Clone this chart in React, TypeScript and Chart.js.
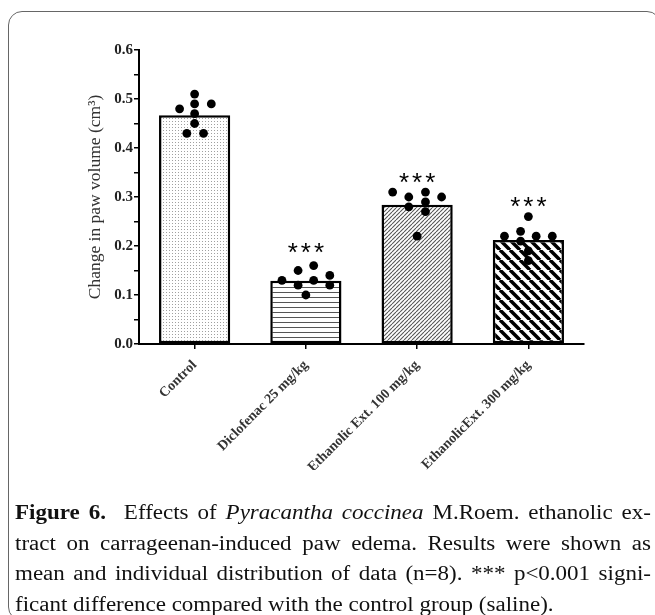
import React, { useEffect, useRef } from 'react';
import { Chart, registerables } from 'chart.js';
Chart.register(...registerables);

const categories = ['Control', 'Diclofenac 25 mg/kg', 'Ethanolic Ext. 100 mg/kg', 'EthanolicExt. 300 mg/kg'];
const meanValues = [0.467, 0.129, 0.284, 0.212];

const controlPoints = [0.51, 0.49, 0.49, 0.48, 0.47, 0.45, 0.43, 0.43];
const diclofenacPoints = [0.16, 0.15, 0.14, 0.13, 0.13, 0.12, 0.12, 0.10];
const ext100Points = [0.31, 0.30, 0.31, 0.30, 0.28, 0.29, 0.27, 0.22];
const ext300Points = [0.26, 0.22, 0.23, 0.22, 0.22, 0.21, 0.19, 0.17];

// horizontal spread of the dots within each group (category units)
const controlJitter = [0, 0, 0.15, -0.135, 0, 0, -0.07, 0.08];
const diclofenacJitter = [0.07, -0.07, 0.215, -0.215, 0.07, -0.07, 0.215, 0];
const ext100Jitter = [-0.22, -0.075, 0.075, 0.22, -0.075, 0.075, 0.075, 0];
const ext300Jitter = [0, -0.215, -0.07, 0.07, 0.215, -0.07, 0, 0];

const starMarks = ['', '***', '***', '***'];
const starLevels: (number | null)[] = [null, 0.196, 0.34, 0.29];

const yTitle = 'Change in paw volume (cm\u00B3)';

function makePattern(kind: string): CanvasPattern | string {
  const c = document.createElement('canvas');
  const g = c.getContext('2d');
  if (!g) return '#fff';
  let s = 4;
  if (kind === 'dots') s = 3;
  if (kind === 'hlines') s = 5;
  if (kind === 'fine') s = 4;
  if (kind === 'bold') s = 10;
  c.width = s; c.height = s;
  g.fillStyle = '#fff';
  g.fillRect(0, 0, s, s);
  if (kind === 'dots') {
    g.fillStyle = '#a0a0a0';
    g.fillRect(1, 1, 1, 1);
  } else if (kind === 'hlines') {
    g.fillStyle = '#555';
    g.fillRect(0, 2, s, 1);
  } else if (kind === 'fine') {
    g.strokeStyle = '#555';
    g.lineWidth = 1.1;
    for (let k = -1; k <= 1; k++) {
      g.beginPath(); g.moveTo(k * s, s); g.lineTo(k * s + s, 0); g.stroke();
    }
  } else if (kind === 'bold') {
    g.strokeStyle = '#000';
    g.lineWidth = 3.5;
    for (let k = -1; k <= 1; k++) {
      g.beginPath(); g.moveTo(k * s, 0); g.lineTo(k * s + s, s); g.stroke();
    }
  }
  return g.createPattern(c, 'repeat') || '#fff';
}

const starPlugin = {
  id: 'stars',
  afterDatasetsDraw(chart: any) {
    const { ctx, scales } = chart;
    const x = scales.x, y = scales.y;
    ctx.save();
    ctx.font = '26px "Liberation Sans"';
    try { (ctx as any).letterSpacing = '3px'; } catch (e) { /* ignore */ }
    ctx.fillStyle = '#000';
    ctx.textAlign = 'center';
    ctx.textBaseline = 'middle';
    starLevels.forEach((lv, i) => {
      if (lv == null) return;
      ctx.fillText(starMarks[i], x.getPixelForValue(i) + 1.5, y.getPixelForValue(lv) + 6);
    });
    ctx.restore();
  },
};

export default function App() {
  const ref = useRef<HTMLCanvasElement>(null);
  useEffect(() => {
    if (!ref.current) return;
    const groups = [controlPoints, diclofenacPoints, ext100Points, ext300Points];
    const jitters = [controlJitter, diclofenacJitter, ext100Jitter, ext300Jitter];
    const dots: { x: number; y: number }[] = [];
    groups.forEach((vals, gi) => vals.forEach((v, k) => dots.push({ x: gi + jitters[gi][k], y: v })));
    const chart = new Chart(ref.current, {
      type: 'bar',
      data: {
        labels: categories,
        datasets: [
          {
            type: 'bar',
            data: meanValues,
            backgroundColor: [makePattern('dots'), makePattern('hlines'), makePattern('fine'), makePattern('bold')] as any,
            borderColor: '#000',
            borderWidth: 2.5,
            borderSkipped: false,
            barPercentage: 0.64,
            categoryPercentage: 1,
            grouped: false,
            order: 2,
          } as any,
          {
            type: 'scatter',
            data: dots,
            xAxisID: 'xs',
            pointRadius: 4.4,
            pointBackgroundColor: '#000',
            pointBorderWidth: 0,
            order: 1,
          } as any,
        ],
      },
      options: {
        animation: false,
        responsive: false,
        devicePixelRatio: 1,
        layout: { padding: { left: 82, top: 50, right: 71, bottom: 0 } },
        plugins: { legend: { display: false }, tooltip: { enabled: false } },
        scales: {
          x: {
            type: 'category',
            offset: true,
            grid: { offset: false, drawOnChartArea: false, tickLength: 5, color: '#000', lineWidth: 1.5 },
            border: { display: true, color: '#000', width: 2 },
            ticks: {
              autoSkip: false,
              minRotation: 45,
              maxRotation: 45,
              padding: 8,
              color: '#333',
              font: { family: '"Liberation Serif"', size: 14, weight: 'bold' },
            },
            afterFit: (s: any) => { s.height = 126; },
          },
          xs: { type: 'linear', axis: 'x', position: 'bottom', offset: false, min: -0.5, max: 3.5, display: false },
          y: {
            min: 0,
            max: 0.6,
            grid: { drawOnChartArea: false, tickLength: 5, color: '#000', lineWidth: 1.5 },
            border: { display: true, color: '#000', width: 2 },
            ticks: {
              stepSize: 0.05,
              padding: 1,
              color: '#222',
              font: { family: '"Liberation Serif"', size: 15, weight: 'bold' },
              callback: (v: any) => (Math.round(Number(v) * 20) % 2 === 0 ? Number(v).toFixed(1) : ''),
            },
            title: {
              display: true,
              text: yTitle,
              color: '#333',
              font: { family: '"Liberation Serif"', size: 17.5 },
              padding: { top: 3, bottom: 4 },
            },
            afterFit: (s: any) => { s.width = 57; },
          },
        },
      } as any,
      plugins: [starPlugin],
    });
    return () => chart.destroy();
  }, []);

  const lineStyle: React.CSSProperties = { textAlign: 'justify', textAlignLast: 'justify' as any, whiteSpace: 'nowrap' };
  return (
    <div>
      <div style={{ position: 'fixed', left: 8, top: 11, width: 653, height: 610, border: '1.3px solid #666', borderRadius: 14, boxSizing: 'border-box' }} />
      <canvas ref={ref} width={655} height={470} style={{ position: 'fixed', left: 0, top: 0, width: 655, height: 470 }} />
      <div style={{ position: 'fixed', left: 15, top: 497, width: 553, transform: 'scaleX(1.15)', transformOrigin: '0 0', fontFamily: '"Liberation Serif"', fontSize: 20, lineHeight: '30.7px', color: '#111' }}>
        <div style={lineStyle}><b>Figure 6.</b>{'\u00A0 '}Effects of <i>Pyracantha coccinea</i> M.Roem. ethanolic ex-</div>
        <div style={lineStyle}>tract on carrageenan-induced paw edema. Results were shown as</div>
        <div style={lineStyle}>mean and individual distribution of data (n=8). *** p&lt;0.001 signi-</div>
        <div style={{ whiteSpace: 'nowrap' }}>ficant difference compared with the control group (saline).</div>
      </div>
    </div>
  );
}
